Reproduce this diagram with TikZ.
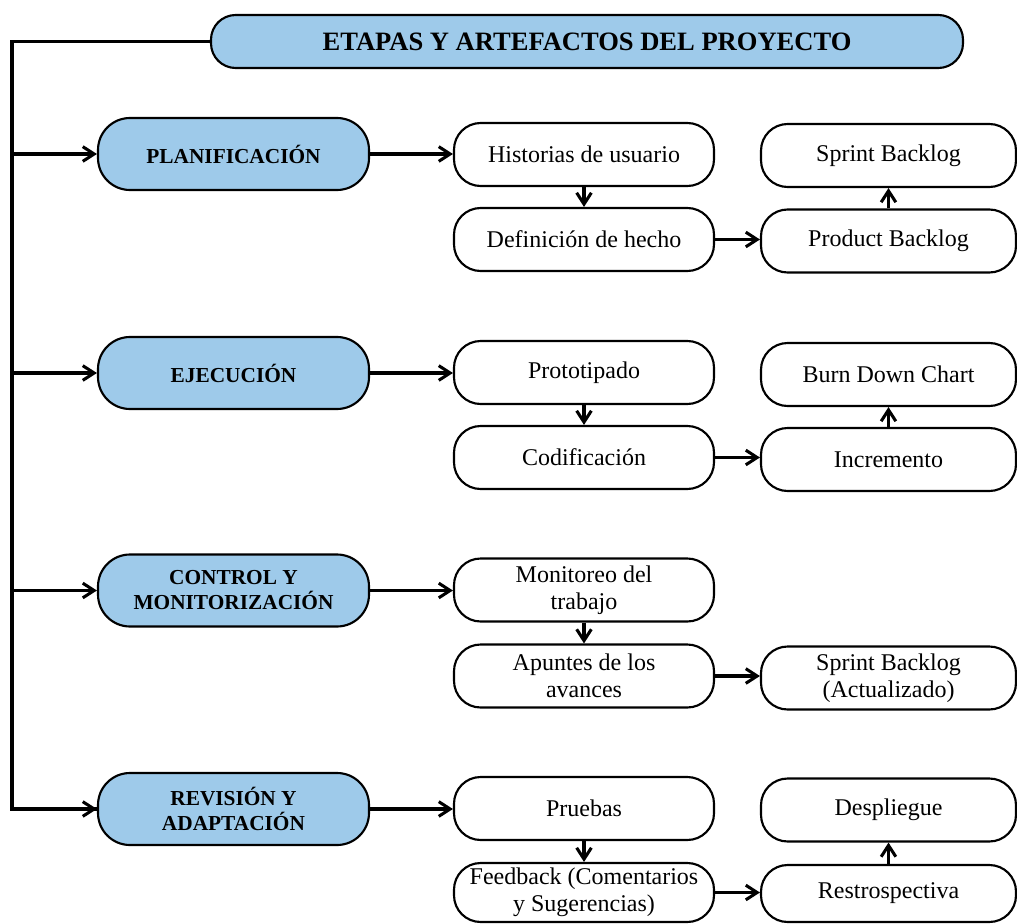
\documentclass[tikz,border=0pt]{standalone}
\usepackage{fontspec}
\setmainfont{Liberation Serif}
\usetikzlibrary{arrows.meta}
\definecolor{phaseblue}{RGB}{158,202,234}
\begin{document}
\begin{tikzpicture}[x=0.75pt,y=-0.75pt,
  box/.style={draw=black, line width=1.6pt, align=center, inner sep=0pt},
  headbox/.style={box, fill=phaseblue, rounded corners=18.5pt, minimum width=564pt,
    minimum height=39.75pt, font=\bfseries\fontsize{19.9}{23}\selectfont},
  phasebox/.style={box, fill=phaseblue, rounded corners=24pt, minimum width=203.25pt,
    minimum height=54pt, font=\bfseries\fontsize{16}{18.75}\selectfont},
  itembox/.style={box, fill=white, rounded corners=20pt, minimum width=195pt,
    minimum height=47.25pt, font=\fontsize{18}{20.25}\selectfont},
  resultbox/.style={itembox, minimum width=191.25pt},
  link/.style={line width=2.3pt, -{Straight Barb[length=8.5pt,width=11pt]}},
  spine/.style={line width=2.5pt, line join=miter}
]
\useasboundingbox (0,0) rectangle (1017,924);

% title and stages
\node[headbox] (title) at (587,41.5) {ETAPAS Y ARTEFACTOS DEL PROYECTO};
\node[phasebox] (plan) at (233.5,154) {PLANIFICACIÓN};
\node[phasebox] (ejec) at (233.5,373) {EJECUCIÓN};
\node[phasebox] (ctrl) at (233.5,590.5) {CONTROL Y\\MONITORIZACIÓN};
\node[phasebox] (rev)  at (233.5,809) {REVISIÓN Y\\ADAPTACIÓN};

% activities of each stage
\node[itembox] (hist)  at (584,154.5) {Historias de usuario};
\node[itembox] (def)   at (584,239.5) {Definición de hecho};
\node[itembox] (proto) at (584,372.5) {Prototipado};
\node[itembox] (codif) at (584,457.5) {Codificación};
\node[itembox] (monit) at (584,590) {Monitoreo del\\trabajo};
\node[itembox] (apunt) at (584,676) {Apuntes de los\\avances};
\node[itembox] (prueb) at (584,808.5) {Pruebas};
\node[itembox, minimum height=44.25pt] (feed) at (584,892.5) {Feedback (Comentarios\\y Sugerencias)};

% resulting artefacts
\node[resultbox] (sprint) at (888.5,155.5) {Sprint Backlog};
\node[resultbox] (prod)   at (888.5,241) {Product Backlog};
\node[resultbox] (burn)   at (888.5,374.5) {Burn Down Chart};
\node[resultbox] (incr)   at (888.5,459.5) {Incremento};
\node[resultbox] (sbact)  at (888.5,678) {Sprint Backlog\\(Actualizado)};
\node[resultbox] (despl)  at (888.5,810) {Despliegue};
\node[resultbox, minimum height=42.75pt] (restro) at (888.5,893.5) {Restrospectiva};

% left spine feeding every stage
\coordinate (spinetop) at (12,41.5);
\coordinate (spinebot) at (12,809);
\draw[spine] (title.west) -- (spinetop) -- (spinebot) -- (spinebot -| rev.west);
\draw[link] (spinebot) -- (rev.west);
\draw[link] (spinetop |- plan.west) -- (plan.west);
\draw[link] (spinetop |- ejec.west) -- (ejec.west);
\draw[link] (spinetop |- ctrl.west) -- (ctrl.west);

% stage -> first activity
\draw[link] (plan.east) -- (plan.east -| hist.west);
\draw[link] (ejec.east) -- (ejec.east -| proto.west);
\draw[link] (ctrl.east) -- (ctrl.east -| monit.west);
\draw[link] (rev.east)  -- (rev.east -| prueb.west);

% activity chains
\draw[link] (hist.south)  -- (def.north);
\draw[link] (proto.south) -- (codif.north);
\draw[link] (monit.south) -- (apunt.north);
\draw[link] (prueb.south) -- (feed.north);

\draw[link] (def.east)   -- (def.east -| prod.west);
\draw[link] (codif.east) -- (codif.east -| incr.west);
\draw[link] (apunt.east) -- (apunt.east -| sbact.west);
\draw[link] (feed.east)  -- (feed.east -| restro.west);

\draw[link] (prod.north)   -- (sprint.south);
\draw[link] (incr.north)   -- (burn.south);
\draw[link] (restro.north) -- (despl.south);
\end{tikzpicture}
\end{document}
